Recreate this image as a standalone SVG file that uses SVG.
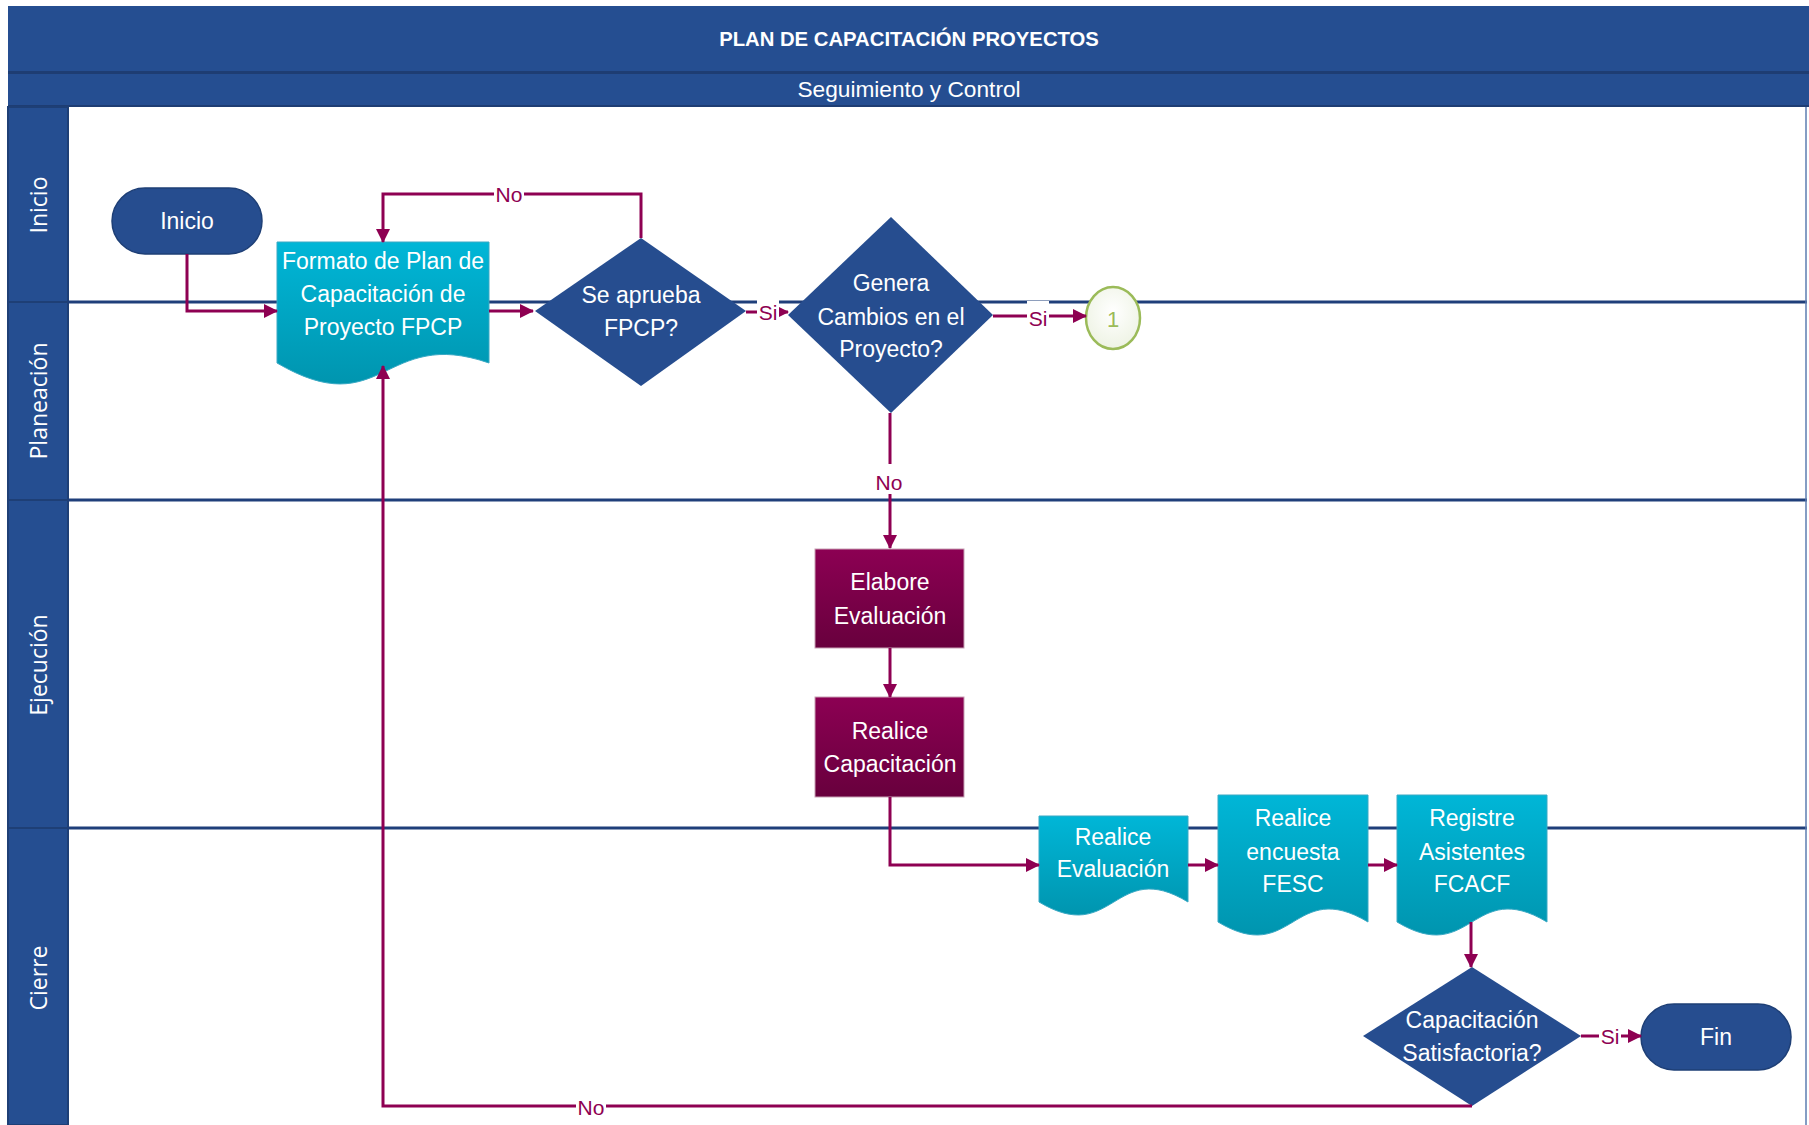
<svg xmlns="http://www.w3.org/2000/svg" width="1809" height="1125" viewBox="0 0 1809 1125">
<defs>
<linearGradient id="gDoc" x1="0" y1="0" x2="0" y2="1"><stop offset="0" stop-color="#00B6D7"/><stop offset="1" stop-color="#0095AF"/></linearGradient>
<linearGradient id="gProc" x1="0" y1="0" x2="0" y2="1"><stop offset="0" stop-color="#8C0053"/><stop offset="1" stop-color="#68003D"/></linearGradient>
<radialGradient id="gCirc" cx="0.5" cy="0.4" r="0.6"><stop offset="0" stop-color="#FFFFFF"/><stop offset="1" stop-color="#EEF3E4"/></radialGradient>
<marker id="arr" viewBox="0 0 14 14" markerWidth="14" markerHeight="14" refX="13" refY="7" orient="auto" markerUnits="userSpaceOnUse"><path d="M0,0 L14,7 L0,14 Z" fill="#8E0052"/></marker>
</defs>
<style>
.band{fill:#254E91}
.hdr{fill:#254E91;stroke:#1E3F76;stroke-width:2}
.lane{stroke:#1F3F7A;stroke-width:3}
.ttl{font-family:"Liberation Sans",Arial,sans-serif;fill:#fff;text-anchor:middle;dominant-baseline:central}
.lanelbl{font-family:"Open Sans","Liberation Sans",sans-serif;font-size:23px;fill:#fff;text-anchor:middle;dominant-baseline:central}
.nt{font-family:"Liberation Sans",Arial,sans-serif;font-size:23px;fill:#fff;text-anchor:middle;dominant-baseline:central}
.doc{fill:url(#gDoc);stroke:#3AA9C4;stroke-width:1}
.proc{fill:url(#gProc);stroke:#C7A0B4;stroke-width:1}
.dec{fill:#264D8F}
.term{fill:#264D8F;stroke:#1E3F76;stroke-width:1.5}
.con{fill:none;stroke:#8E0052;stroke-width:3}
.cl{font-family:"Liberation Sans",Arial,sans-serif;font-size:21px;fill:#8E0052;text-anchor:middle;dominant-baseline:central}
.lb{fill:#fff}
</style>
<rect x="0" y="0" width="1809" height="1125" fill="#fff"/>
<g id="header">
<rect class="band" x="8" y="6" width="1801" height="66"/>
<rect x="8" y="71" width="1801" height="3" fill="#1E3D73"/>
<rect class="band" x="8" y="74" width="1801" height="32"/>
<rect x="8" y="105" width="1801" height="2" fill="#1E3D73"/>
<text class="ttl" x="909" y="39" font-size="20.3" font-weight="bold">PLAN DE CAPACITACIÓN PROYECTOS</text>
<text class="ttl" x="909" y="89" font-size="22.7">Seguimiento y Control</text>
</g>
<g id="lanes">
<rect class="hdr" x="8" y="107" width="60" height="195"/>
<rect class="hdr" x="8" y="302" width="60" height="198"/>
<rect class="hdr" x="8" y="500" width="60" height="328"/>
<rect class="hdr" x="8" y="828" width="60" height="297"/>
<line class="lane" x1="68" y1="302" x2="1807" y2="302"/>
<line class="lane" x1="68" y1="500" x2="1807" y2="500"/>
<line class="lane" x1="68" y1="828" x2="1807" y2="828"/>
<line x1="1806" y1="107" x2="1806" y2="1125" stroke="#5C7DB0" stroke-width="1.5"/>
<text class="lanelbl" x="38" y="205" transform="rotate(-90 38 205)">Inicio</text>
<text class="lanelbl" x="38" y="401" transform="rotate(-90 38 401)">Planeación</text>
<text class="lanelbl" x="38" y="665" transform="rotate(-90 38 665)">Ejecución</text>
<text class="lanelbl" x="38" y="978" transform="rotate(-90 38 978)">Cierre</text>
</g>
<g id="inicio">
<rect class="term" x="112" y="188" width="150" height="66" rx="33"/>
<text class="nt" x="187" y="221">Inicio</text>
</g>
<g id="formato">
<path class="doc" d="M277,242 H489 V363 C383,326 383,425 277,363 Z"/>
<text class="nt" x="383" y="261">Formato de Plan de</text>
<text class="nt" x="383" y="294">Capacitación de</text>
<text class="nt" x="383" y="327">Proyecto FPCP</text>
</g>
<g id="d1">
<path class="dec" d="M641,238 L746,311 L641,386 L535,311 Z"/>
<text class="nt" x="641" y="295">Se aprueba</text>
<text class="nt" x="641" y="328">FPCP?</text>
</g>
<g id="d2">
<path class="dec" d="M891,217 L993,315 L891,413 L788,315 Z"/>
<text class="nt" x="891" y="283">Genera</text>
<text class="nt" x="891" y="317">Cambios en el</text>
<text class="nt" x="891" y="349">Proyecto?</text>
</g>
<g id="conector1">
<ellipse cx="1113" cy="318" rx="27" ry="31" fill="url(#gCirc)" stroke="#9BBB59" stroke-width="2.5"/>
<text x="1113" y="319" font-family="Liberation Sans, Arial, sans-serif" font-size="22" fill="#9BBB59" text-anchor="middle" dominant-baseline="central">1</text>
</g>
<g id="elabore">
<rect class="proc" x="815" y="549" width="149" height="99"/>
<text class="nt" x="890" y="582">Elabore</text>
<text class="nt" x="890" y="616">Evaluación</text>
</g>
<g id="realice-cap">
<rect class="proc" x="815" y="697" width="149" height="100"/>
<text class="nt" x="890" y="731">Realice</text>
<text class="nt" x="890" y="764">Capacitación</text>
</g>
<g id="realice-eval">
<path class="doc" d="M1039,816 H1188 V902 C1114,857 1114,947 1039,902 Z"/>
<text class="nt" x="1113" y="837">Realice</text>
<text class="nt" x="1113" y="869">Evaluación</text>
</g>
<g id="encuesta">
<path class="doc" d="M1218,795 H1368 V922 C1293,877 1293,967 1218,922 Z"/>
<text class="nt" x="1293" y="818">Realice</text>
<text class="nt" x="1293" y="852">encuesta</text>
<text class="nt" x="1293" y="884">FESC</text>
</g>
<g id="registre">
<path class="doc" d="M1397,795 H1547 V922 C1472,877 1472,967 1397,922 Z"/>
<text class="nt" x="1472" y="818">Registre</text>
<text class="nt" x="1472" y="852">Asistentes</text>
<text class="nt" x="1472" y="884">FCACF</text>
</g>
<g id="d3">
<path class="dec" d="M1472,967 L1581,1036 L1472,1106 L1363,1036 Z"/>
<text class="nt" x="1472" y="1020">Capacitación</text>
<text class="nt" x="1472" y="1053">Satisfactoria?</text>
</g>
<g id="fin">
<rect class="term" x="1641" y="1004" width="150" height="66" rx="33"/>
<text class="nt" x="1716" y="1037">Fin</text>
</g>
<g id="connectors">
<path class="con" d="M187,254 V311 H277" marker-end="url(#arr)"/>
<path class="con" d="M489,311 H533" marker-end="url(#arr)"/>
<path class="con" d="M641,238 V194 H383 V242" marker-end="url(#arr)"/>
<path class="con" d="M746,312 H788" marker-end="url(#arr)"/>
<path class="con" d="M993,316 H1086" marker-end="url(#arr)"/>
<path class="con" d="M890,413 V548" marker-end="url(#arr)"/>
<path class="con" d="M890,648 V697" marker-end="url(#arr)"/>
<path class="con" d="M890,797 V865 H1039" marker-end="url(#arr)"/>
<path class="con" d="M1188,865 H1218" marker-end="url(#arr)"/>
<path class="con" d="M1368,865 H1397" marker-end="url(#arr)"/>
<path class="con" d="M1471,922 V967" marker-end="url(#arr)"/>
<path class="con" d="M1581,1036 H1641" marker-end="url(#arr)"/>
<path class="con" d="M1472,1106 H383 V366" marker-end="url(#arr)"/>
<rect class="lb" x="494" y="182" width="30" height="24"/><text class="cl" x="509" y="194">No</text>
<rect class="lb" x="757" y="300" width="22" height="24"/><text class="cl" x="768" y="312">Si</text>
<rect class="lb" x="1027" y="301" width="22" height="28"/><text class="cl" x="1038" y="318">Si</text>
<rect class="lb" x="874" y="464" width="32" height="30"/><text class="cl" x="889" y="482">No</text>
<rect class="lb" x="1599" y="1024" width="22" height="24"/><text class="cl" x="1610" y="1036">Si</text>
<rect class="lb" x="576" y="1094" width="30" height="24"/><text class="cl" x="591" y="1107">No</text>
</g>
</svg>
